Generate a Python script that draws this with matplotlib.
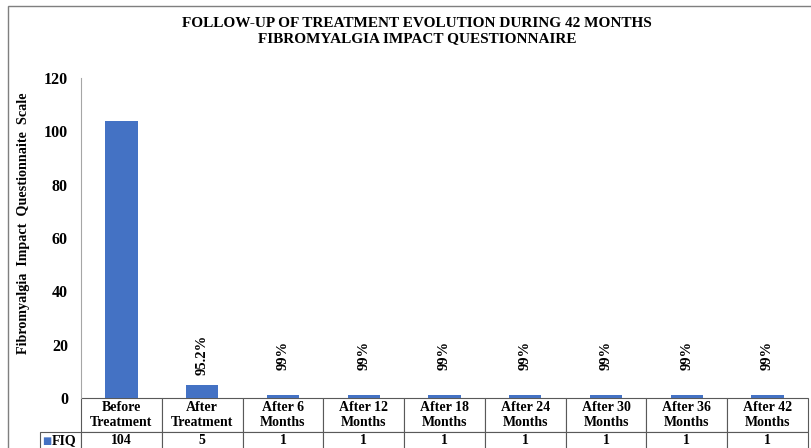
import matplotlib.pyplot as plt
from matplotlib.patches import Rectangle

categories = ["Before\nTreatment", "After\nTreatment", "After 6\nMonths", "After 12\nMonths",
              "After 18\nMonths", "After 24\nMonths", "After 30\nMonths", "After 36\nMonths",
              "After 42\nMonths"]
fiq = [104, 5, 1, 1, 1, 1, 1, 1, 1]
improvement = ["", "95.2%", "99%", "99%", "99%", "99%", "99%", "99%", "99%"]

plt.rcParams['font.family'] = ['Liberation Serif', 'DejaVu Serif']
plt.rcParams['font.weight'] = 'bold'

W, H = 811, 448
fig = plt.figure(figsize=(W / 100, H / 100), dpi=100)
ax = fig.add_axes([81 / W, 1 - 398 / H, 727 / W, 320 / H])

x = list(range(len(fiq)))
ax.bar(x, fiq, width=0.4, color="#4472C4", zorder=3)
ax.set_xlim(-0.5, len(fiq) - 0.5)
ax.set_ylim(0, 120)
ax.set_yticks(range(0, 121, 20))
ax.tick_params(axis='y', length=0, pad=9.4, labelsize=11.5)
ax.set_xticks([])
for s in ["top", "right", "bottom"]:
    ax.spines[s].set_visible(False)
ax.spines["left"].set_color("#a6a6a6")
ax.set_ylabel("Fibromyalgia  Impact  Questionnaite  Scale", fontsize=10.2, fontweight='bold')
ax.yaxis.set_label_coords(-51 / 727, 0.545)

for i, lab in enumerate(improvement):
    if lab:
        ax.text(i, 16, lab, rotation=90, ha='center', va='center', fontsize=10.5, fontweight='bold')

# data table under the axis (bbox covers the category columns only)
tbl = ax.table(cellText=[[str(v) for v in fiq]], colLabels=categories,
               cellLoc='center', colWidths=[1 / 9] * 9,
               bbox=[0, -52 / 320, 1, 52 / 320])
tbl.add_cell(1, -1, width=41 / 727, height=18 / 320, text="FIQ", loc='right')
tbl.auto_set_font_size(False)
for (r, c), cell in tbl.get_celld().items():
    cell.set_edgecolor("#595959")
    cell.set_linewidth(0.8)
    cell.get_text().set_fontsize(10)
    cell.get_text().set_fontweight('bold')
    cell.set_height(34 / 320 if r == 0 else 18 / 320)
ax.text(-39 / 727, -43 / 320, "■", color="#4472C4", fontsize=7, ha='left', va='center',
        transform=ax.transAxes, family=['DejaVu Sans'])

fig.suptitle("FOLLOW-UP OF TREATMENT EVOLUTION DURING 42 MONTHS\nFIBROMYALGIA IMPACT QUESTIONNAIRE",
             x=417 / W, y=1 - 17 / H, va='top', fontsize=11, fontweight='bold', linespacing=1.2)

fig.patches.append(Rectangle((8 / W, -0.1), 1.2, 1 - 6 / H + 0.1, transform=fig.transFigure,
                             fill=False, edgecolor="#7f7f7f", linewidth=1))

fig.savefig("out.png", dpi=100)
